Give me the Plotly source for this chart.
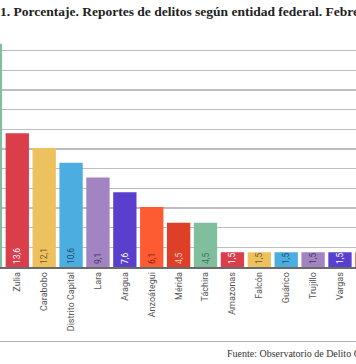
import plotly.graph_objects as go

# Data read from the (cropped) reference picture
states = ["", "Zulia", "Carabobo", "Distrito Capital", "Lara", "Aragua", "Anzoátegui",
          "Mérida", "Táchira", "Amazonas", "Falcón", "Guárico", "Trujillo", "Vargas", ""]
values = [22.7, 13.6, 12.1, 10.6, 9.1, 7.6, 6.1, 4.5, 4.5, 1.5, 1.5, 1.5, 1.5, 1.5, 1.5]
grid_values = [2, 4, 6, 8, 10, 12, 14, 16, 18, 20, 22, 24]

palette = ["#7FBF9E", "#DB3E4B", "#EEC15F", "#4CADE1", "#A284C3", "#5A3FCF", "#FF5B33", "#E03F27"]
text_palette = ["#3F6F5A", "#FFFFFF", "#6E5C34", "#23506F", "#46365E", "#FFFFFF", "#80240E", "#F8D0C4"]

title_text = "1. Porcentaje. Reportes de delitos según entidad federal. Febrero"
source_text = "Fuente: Observatorio de Delito Organizado"

W, H = 356, 364
PLOT_TOP, PLOT_BOTTOM = 30, 267   # pixel rows of the plot area

x = list(range(len(states)))
colors = [palette[i % len(palette)] for i in x]
tcolors = [text_palette[i % len(text_palette)] for i in x]
labels = [f"{v:.1f}".replace(".", ",") for v in values]

fig = go.Figure(go.Bar(
    x=x, y=values,
    marker=dict(color=colors, line=dict(width=0)),
    text=labels, textposition="inside", insidetextanchor="start",
    textangle=-90, constraintext="none",
    textfont=dict(family="Roboto", size=8.5, color=tcolors),
    hoverinfo="skip",
))

def py(px):
    return (H - px) / H

fig.update_layout(
    width=W, height=H,
    margin=dict(l=0, r=0, t=0, b=0, pad=0),
    paper_bgcolor="white", plot_bgcolor="white",
    showlegend=False, bargap=0.133,
    xaxis=dict(
        range=[0.357, 0.357 + W / 26.89],
        tickmode="array", tickvals=x, ticktext=states,
        tickangle=-90, tickfont=dict(family="Roboto", size=9, color="#555555"),
        showgrid=False, showline=True, linecolor="#6a6a6a", linewidth=1.5,
        ticks="", automargin=False, zeroline=False,
    ),
    yaxis=dict(
        domain=[py(PLOT_BOTTOM), py(PLOT_TOP)],
        range=[0, 24.1], tickmode="array", tickvals=grid_values, showticklabels=False,
        showgrid=True, gridcolor="#bdbdbd", gridwidth=1.5,
        zeroline=False, showline=False, automargin=False,
    ),
    annotations=[
        dict(text="<b>" + title_text + "</b>", xref="paper", yref="paper",
             x=-2 / W, y=py(12), xanchor="left", yanchor="middle", showarrow=False,
             font=dict(family="Liberation Serif", size=13.5, color="#222222")),
        dict(text=source_text, xref="paper", yref="paper",
             x=225 / W, y=py(353), xanchor="left", yanchor="middle", showarrow=False,
             font=dict(family="Liberation Serif", size=10, color="#333333")),
    ],
    shapes=[
        dict(type="line", xref="paper", yref="paper", x0=0, x1=1,
             y0=py(341.5), y1=py(341.5), line=dict(color="#b3b3b3", width=1)),
    ],
)

fig.write_html(
    "out.html",
    config={"displayModeBar": False, "staticPlot": True},
    post_script="document.body.style.margin='0';document.body.style.overflow='hidden';",
)
